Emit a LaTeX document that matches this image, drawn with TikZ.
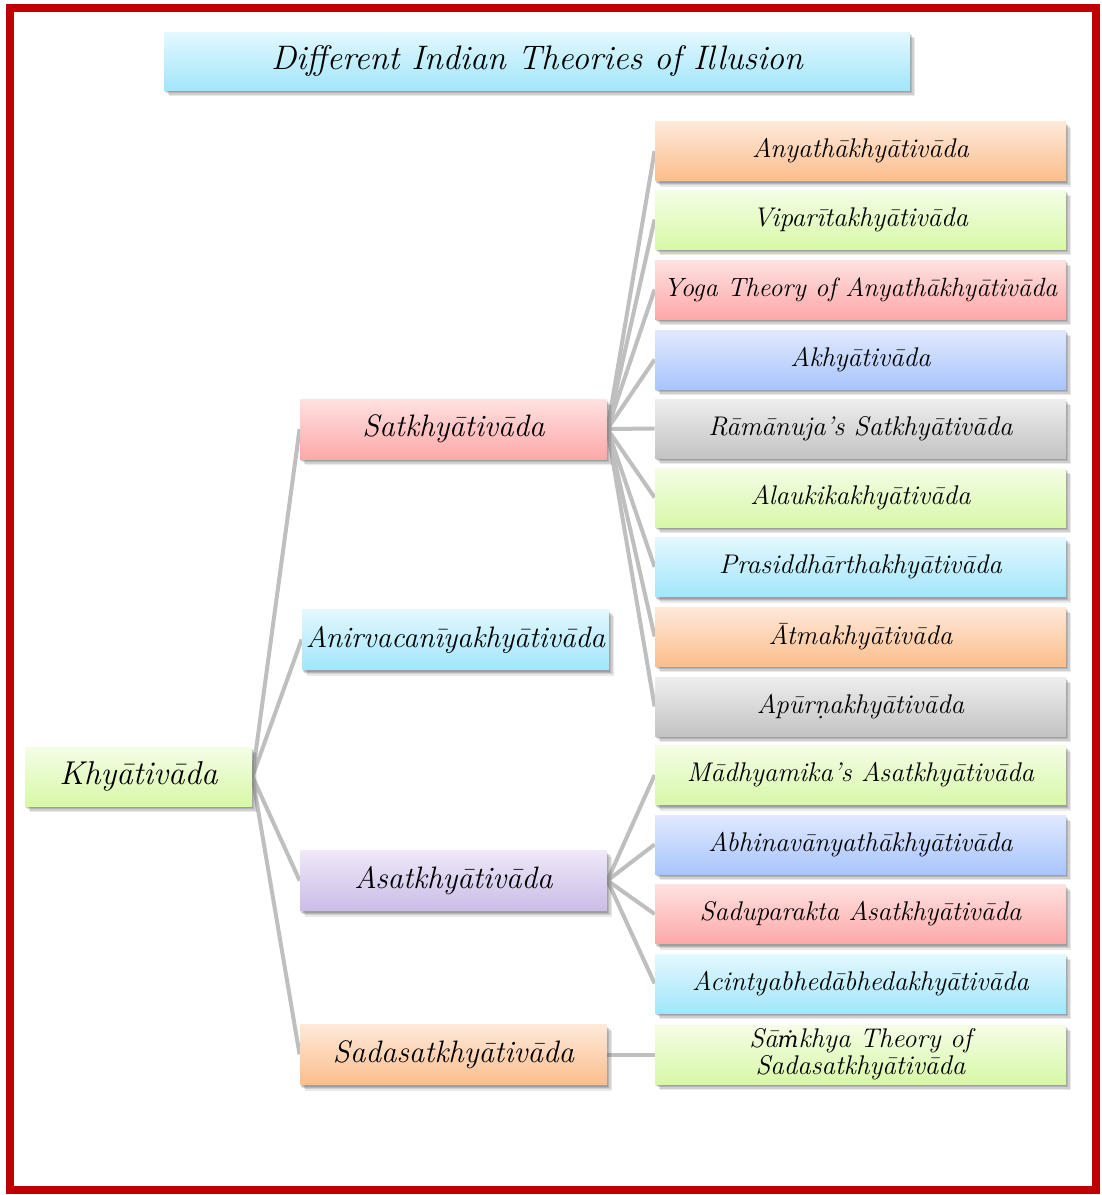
\documentclass[tikz,border=0pt]{standalone}
\usepackage{fontspec}
\usetikzlibrary{shadows}
\newfontfamily\dvserif{DejaVu Serif}

% drawing layers: page, connectors, boxes
\pgfdeclarelayer{canvas}
\pgfdeclarelayer{links}
\pgfsetlayers{canvas,links,main}

% box gradients: light top, saturated bottom
\definecolor{orT}{HTML}{FEE9DA}\definecolor{orB}{HTML}{FBBE8C}
\definecolor{grT}{HTML}{F4FDE6}\definecolor{grB}{HTML}{D8F8A8}
\definecolor{rdT}{HTML}{FFE1E1}\definecolor{rdB}{HTML}{FDA8A8}
\definecolor{blT}{HTML}{E1E9FE}\definecolor{blB}{HTML}{A8C5FC}
\definecolor{gyT}{HTML}{EEEEEE}\definecolor{gyB}{HTML}{C3C3C3}
\definecolor{cyT}{HTML}{E3F8FE}\definecolor{cyB}{HTML}{A2E6FB}
\definecolor{puT}{HTML}{EFE8F8}\definecolor{puB}{HTML}{CBBCE6}
\definecolor{frameRed}{HTML}{C00000}
\definecolor{linkGray}{HTML}{BFBFBF}

% m with dot above, taken from a family that has the glyph
\newcommand{\mdot}{{\dvserif\itshape\fontsize{11}{13}\selectfont ṁ}}

\tikzset{
  softshadow/.style={
    drop shadow={shadow xshift=0.6pt, shadow yshift=-1pt,   opacity=0.2, fill=black!70},
    drop shadow={shadow xshift=1.2pt, shadow yshift=-1.7pt, opacity=0.2, fill=black!70},
    drop shadow={shadow xshift=1.8pt, shadow yshift=-2.4pt, opacity=0.16, fill=black!70},
    drop shadow={shadow xshift=2.4pt, shadow yshift=-3.2pt, opacity=0.12, fill=black!70}},
  box/.style={rectangle, inner sep=0pt, align=center, font=\itshape, softshadow},
  orbox/.style={box, top color=orT, bottom color=orB},
  grbox/.style={box, top color=grT, bottom color=grB},
  rdbox/.style={box, top color=rdT, bottom color=rdB},
  blbox/.style={box, top color=blT, bottom color=blB},
  gybox/.style={box, top color=gyT, bottom color=gyB},
  cybox/.style={box, top color=cyT, bottom color=cyB},
  pubox/.style={box, top color=puT, bottom color=puB},
  leaf/.style={minimum width=205.5pt, minimum height=29.5pt,
    font=\itshape\fontsize{13.5}{14.5}\selectfont},
  mid/.style={minimum width=153.5pt, minimum height=30pt,
    font=\itshape\fontsize{15.5}{17}\selectfont},
  link/.style={draw=linkGray, line width=2pt},
}

\begin{document}
\begin{tikzpicture}[x=0.5pt, y=-0.5pt]
  \useasboundingbox (0,0) rectangle (1102,1195);
  \begin{pgfonlayer}{canvas}
    \fill[white] (0,0) rectangle (1102,1195);
  \end{pgfonlayer}
  \draw[frameRed, line width=4pt] (10,8) rectangle (1096,1190);

  % title
  \node[cybox, minimum width=373pt, minimum height=29pt,
        font=\itshape\fontsize{17}{19}\selectfont] (title) at (537,61)
        {Different Indian Theories of Illusion};

  % root
  \node[grbox, minimum width=113.5pt, minimum height=29.5pt,
        font=\itshape\fontsize{16.5}{18}\selectfont] (root) at (138.5,776.5) {Khyātivāda};

  % second level
  \node[rdbox, mid] (sat)  at (453.5,429)   {Satkhyātivāda};
  \node[cybox, mid, font=\itshape\fontsize{14.8}{16}\selectfont] (anir) at (455.5,639.5) {Anirvacanīyakhyātivāda};
  \node[pubox, mid] (asat) at (453.5,880.5) {Asatkhyātivāda};
  \node[orbox, mid] (sad)  at (453.5,1054.5) {Sadasatkhyātivāda};

  % third level
  \node[orbox, leaf] (l1)  at (860.5,151)    {Anyathākhyātivāda};
  \node[grbox, leaf] (l2)  at (860.5,219.5)  {Viparītakhyātivāda};
  \node[rdbox, leaf, font=\itshape\fontsize{13.2}{14.5}\selectfont] (l3) at (860.5,289.5) {Yoga Theory of Anyathākhyātivāda};
  \node[blbox, leaf] (l4)  at (860.5,359.5)  {Akhyātivāda};
  \node[gybox, leaf] (l5)  at (860.5,428.5)  {Rāmānuja’s Satkhyātivāda};
  \node[grbox, leaf] (l6)  at (860.5,497.5)  {Alaukikakhyātivāda};
  \node[cybox, leaf] (l7)  at (860.5,567)    {Prasiddhārthakhyātivāda};
  \node[orbox, leaf] (l8)  at (860.5,636.5)  {Ātmakhyātivāda};
  \node[gybox, leaf] (l9)  at (860.5,706.5)  {Apūrṇakhyātivāda};
  \node[grbox, leaf] (l10) at (860.5,775)    {Mādhyamika’s Asatkhyātivāda};
  \node[blbox, leaf] (l11) at (860.5,844.5)  {Abhinavānyathākhyātivāda};
  \node[rdbox, leaf] (l12) at (860.5,914)    {Saduparakta Asatkhyātivāda};
  \node[cybox, leaf] (l13) at (860.5,983.5)  {Acintyabhedābhedakhyātivāda};
  \node[grbox, leaf] (l14) at (860.5,1054.5)
        {Sā\mdot khya Theory of\\[-1pt]Sadasatkhyātivāda};

  % connectors, behind the boxes
  \begin{pgfonlayer}{links}
    \foreach \m in {sat,anir,asat,sad}
      \draw[link] (root.east) -- (\m.west);
    \foreach \l in {l1,l2,l3,l4,l5,l6,l7,l8,l9}
      \draw[link] (sat.east) -- (\l.west);
    \foreach \l in {l10,l11,l12,l13}
      \draw[link] (asat.east) -- (\l.west);
    \draw[link] (sad.east) -- (l14.west);
  \end{pgfonlayer}
\end{tikzpicture}
\end{document}
